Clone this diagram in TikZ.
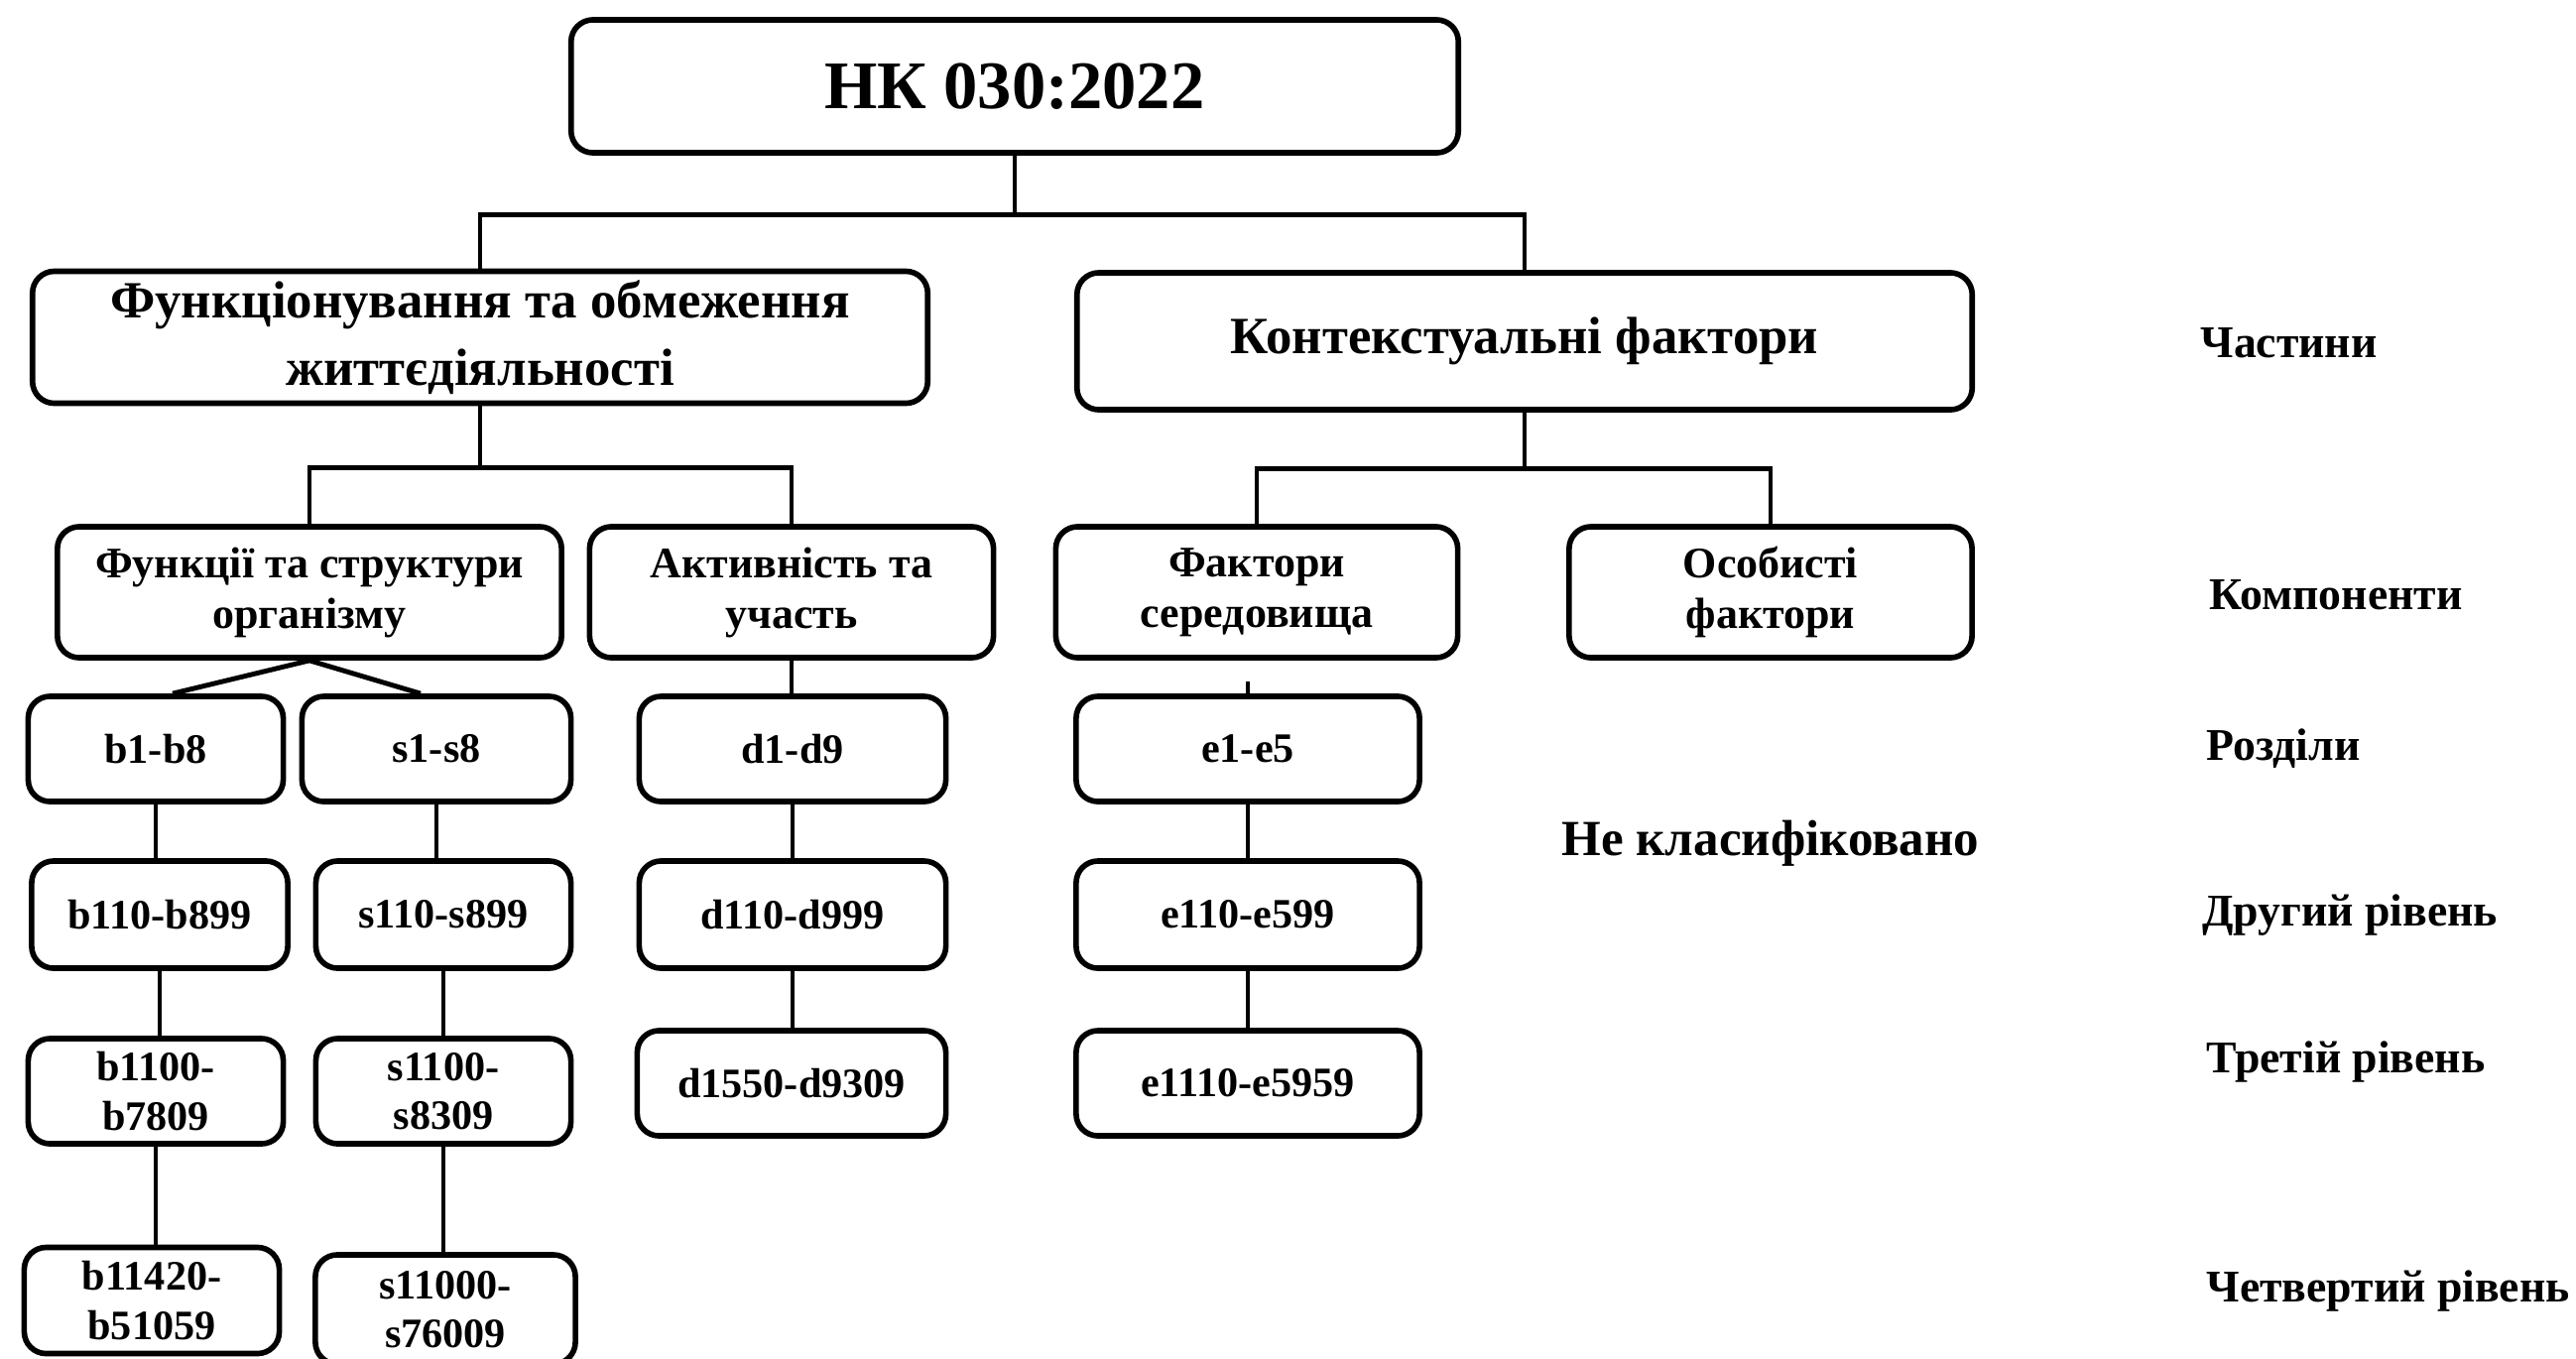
\documentclass[tikz,border=0pt]{standalone}
\usepackage{fontspec}
\setmainfont{Liberation Serif}
\tikzset{
  lvlbox/.style = {draw=black, line width=1.6pt, rounded corners=0.22cm,
    align=center, inner sep=0pt, font=\bfseries},
  rootbox/.style = {lvlbox, minimum width=8.94cm, minimum height=1.34cm,
    font=\bfseries\fontsize{19.5}{23}\selectfont},
  partbox/.style = {lvlbox, minimum width=9.02cm, minimum height=1.33cm,
    font=\bfseries\fontsize{15}{19.5}\selectfont},
  compbox/.style = {lvlbox, minimum height=1.32cm,
    font=\bfseries\fontsize{12.5}{14.5}\selectfont},
  codebox/.style = {lvlbox, minimum height=1.06cm,
    font=\bfseries\fontsize{12}{14}\selectfont},
  levelname/.style = {anchor=west, inner sep=0pt,
    font=\bfseries\fontsize{13}{15}\selectfont}}

\begin{document}
\begin{tikzpicture}[x=0.01cm, y=-0.01cm, line width=1.4pt]
\useasboundingbox (0,0) rectangle (2597,1369);

% parts
\node [rootbox] (root) at (1023,87) {НК 030:2022};
\node [partbox] (func) at (484,340) {Функціонування та обмеження\\життєдіяльності};
\node [partbox, minimum height=1.38cm] (cont) at (1537,344) {Контекстуальні фактори};

% components
\node [compbox, minimum width=5.08cm] (body) at (312,597) {Функції та структури\\організму};
\node [compbox, minimum width=4.07cm] (act) at (798,597) {Активність та\\участь};
\node [compbox, minimum width=4.05cm] (env) at (1267,597) {Фактори\\середовища};
\node [compbox, minimum width=4.06cm] (pers) at (1785,597) {Особисті\\фактори};

% chapters and levels
\node [codebox, minimum width=2.57cm] (b1) at (157,755) {b1-b8};
\node [codebox, minimum width=2.71cm] (s1) at (440,755) {s1-s8};
\node [codebox, minimum width=3.09cm] (d1) at (799,755) {d1-d9};
\node [codebox, minimum width=3.46cm] (e1) at (1258,755) {e1-e5};

\node [codebox, minimum width=2.58cm, minimum height=1.08cm] (b2) at (161,922) {b110-b899};
\node [codebox, minimum width=2.57cm, minimum height=1.08cm] (s2) at (447,922) {s110-s899};
\node [codebox, minimum width=3.09cm, minimum height=1.08cm] (d2) at (799,922) {d110-d999};
\node [codebox, minimum width=3.46cm, minimum height=1.08cm] (e2) at (1258,922) {e110-e599};

\node [codebox, minimum width=2.57cm] (b3) at (157,1100) {b1100-\\b7809};
\node [codebox, minimum width=2.57cm] (s3) at (447,1100) {s1100-\\s8309};
\node [codebox, minimum width=3.11cm] (d3) at (798,1092) {d1550-d9309};
\node [codebox, minimum width=3.46cm] (e3) at (1258,1092) {e1110-e5959};

\node [codebox, minimum width=2.57cm, minimum height=1.07cm] (b4) at (153,1311) {b11420-\\b51059};
\node [codebox, minimum width=2.62cm, minimum height=1.10cm] (s4) at (449,1320) {s11000-\\s76009};

% level names
\node [levelname] (nparts) at (2216,346) {Частини};
\node [levelname] (ncomp) at (2225,600) {Компоненти};
\node [levelname] (nchap) at (2222,755) {Розділи};
\node [levelname, font=\bfseries\fontsize{14.5}{16}\selectfont] (nocls) at (1572,850) {Не класифіковано};
\node [levelname] (nsecond) at (2218,923) {Другий рівень};
\node [levelname] (nthird) at (2222,1070) {Третій рівень};
\node [levelname] (nfourth) at (2222,1301) {Четвертий рівень};

% connectors
\draw (root.south) -- ++(0,60) coordinate (rootbar);
\draw (func.north) |- (rootbar) -| (cont.north);
\draw (func.south) -- ++(0,62) coordinate (funcbar);
\draw (body.north) |- (funcbar) -| (act.north);
\draw (cont.south) -- ++(0,57) coordinate (contbar);
\draw (env.north) |- (contbar) -| (pers.north);
\draw ([xshift=0.17cm]b1.north) -- (body.south) -- ([xshift=-0.16cm]s1.north);
\draw (act.south) -- (act.south |- d1.north);
\draw (e1.north) -- ++(0,-12) coordinate (estub);
\foreach \a/\b in {b1/b2, b2/b3, b3/b4, s1/s2, s2/s3, s3/s4, d1/d2, d2/d3, e1/e2, e2/e3}
	\draw (\a.south) -- (\a.south |- \b.north);
\end{tikzpicture}
\end{document}
